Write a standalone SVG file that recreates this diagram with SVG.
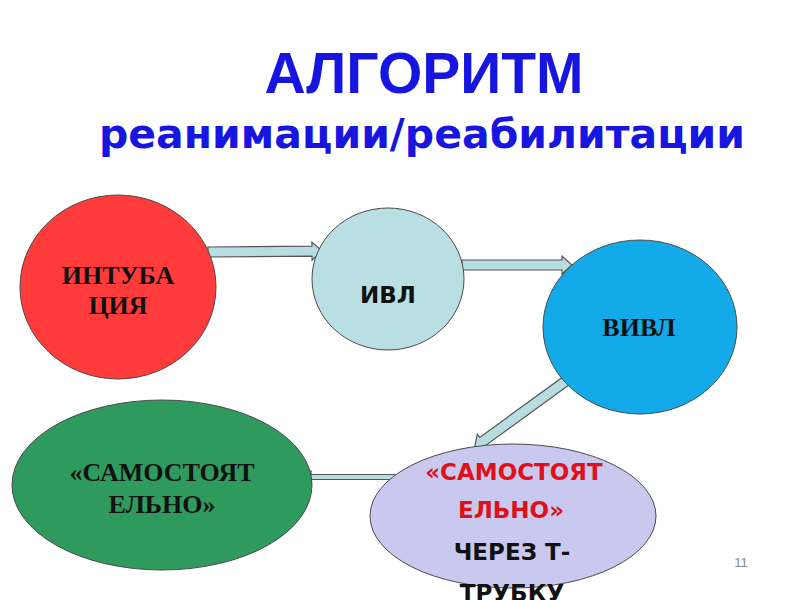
<svg xmlns="http://www.w3.org/2000/svg" width="800" height="600" viewBox="0 0 800 600">
<style>
.title{font-weight:bold;fill:#1616e0;text-anchor:middle}
.node{stroke:#4a4a4a;stroke-width:1}
.ser{font-family:"Liberation Serif","Times New Roman",serif;font-weight:bold;font-size:26px;fill:#111;text-anchor:middle}
.sans{font-family:"DejaVu Sans",Verdana,sans-serif;font-weight:bold;font-size:23px;text-anchor:middle}
.arr{fill:#b8dde0;stroke:#555;stroke-width:1.2}
</style>
<rect width="800" height="600" fill="#fff"/>
<text class="title" x="424" y="93" font-size="57" font-family="Liberation Sans, Arial, sans-serif">АЛГОРИТМ</text>
<text class="title" x="422" y="148" font-size="41" font-family="DejaVu Sans, Verdana, sans-serif">реанимации/реабилитации</text>
<g id="connectors">
<g transform="translate(208,252) rotate(-0.5)"><path class="arr" d="M0,-5 L104,-5 L104,-9 L114,0 L104,9 L104,5 L0,5 Z"/></g>
<g transform="translate(462,265)"><path class="arr" d="M0,-5 L100,-5 L100,-9 L110,0 L100,9 L100,5 L0,5 Z"/></g>
<g transform="translate(570,378) rotate(144)"><path class="arr" d="M0,-5 L108,-5 L108,-9 L118,0 L108,9 L108,5 L0,5 Z"/></g>
<g transform="translate(395,477) rotate(180)"><path class="arr" d="M0,-2.5 L84,-2.5 L84,-6 L94,0 L84,6 L84,2.5 L0,2.5 Z"/></g>
</g>
<g id="intubation">
<ellipse class="node" cx="118" cy="287" rx="98" ry="92" fill="#ff3b3b"/>
<text class="ser" x="118" y="284">ИНТУБА</text>
<text class="ser" x="118" y="314">ЦИЯ</text>
</g>
<g id="ivl">
<ellipse class="node" cx="388" cy="279" rx="76" ry="71" fill="#b9dfe2"/>
<text class="sans" x="388" y="303" fill="#111" font-size="22">ИВЛ</text>
</g>
<g id="vivl">
<ellipse class="node" cx="640" cy="327" rx="97" ry="87" fill="#12aae8"/>
<text class="ser" x="639" y="336">ВИВЛ</text>
</g>
<g id="independent">
<ellipse class="node" cx="162" cy="485" rx="150" ry="85" fill="#2e9a5e"/>
<text class="ser" x="162" y="481" font-size="28">«САМОСТОЯТ</text>
<text class="ser" x="162" y="513" font-size="28">ЕЛЬНО»</text>
</g>
<g id="ttube">
<ellipse class="node" cx="513" cy="516" rx="143" ry="72" fill="#c9c9ef"/>
<text class="sans" x="514" y="480" fill="#e0101a">«САМОСТОЯТ</text>
<text class="sans" x="511" y="518" fill="#e0101a">ЕЛЬНО»</text>
<text class="sans" x="512" y="560" fill="#111">ЧЕРЕЗ Т-</text>
<text class="sans" x="512" y="601" fill="#111">ТРУБКУ</text>
</g>
<text x="741" y="567" font-family="Liberation Sans,Arial,sans-serif" font-size="13" fill="#888" text-anchor="middle">11</text>
</svg>
